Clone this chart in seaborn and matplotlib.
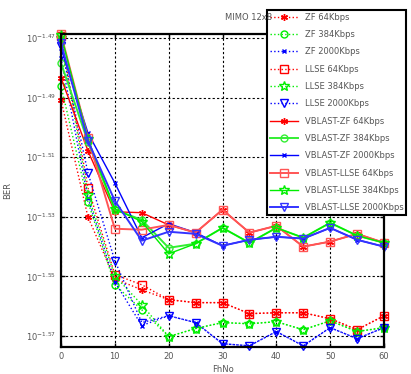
import numpy as np
import pandas as pd
import matplotlib
matplotlib.use("Agg")
import matplotlib.pyplot as plt
import seaborn as sns

# x axis values
fhno = [0, 5, 10, 15, 20, 25, 30, 35, 40, 45, 50, 55, 60]

# BER, stored as log10 exponents (axis labels are 10^x)
zf_64 = [-1.4907, -1.5300, -1.5508, -1.5545, -1.5578, -1.5588, -1.5588, -1.5625, -1.5622, -1.5622, -1.5642, -1.5679, -1.5632]
zf_384 = [-1.4860, -1.5249, -1.5528, -1.5612, -1.5702, -1.5675, -1.5655, -1.5659, -1.5652, -1.5679, -1.5649, -1.5685, -1.5672]
zf_2000 = [-1.4766, -1.5236, -1.5518, -1.5665, -1.5632, -1.5655, -1.5726, -1.5733, -1.5685, -1.5733, -1.5672, -1.5709, -1.5672]
llse_64 = [-1.4692, -1.5202, -1.5494, -1.5528, -1.5578, -1.5588, -1.5588, -1.5625, -1.5622, -1.5622, -1.5642, -1.5679, -1.5632]
llse_384 = [-1.4699, -1.5226, -1.5498, -1.5595, -1.5702, -1.5675, -1.5655, -1.5659, -1.5652, -1.5679, -1.5649, -1.5685, -1.5672]
llse_2000 = [-1.4726, -1.5152, -1.5447, -1.5655, -1.5632, -1.5655, -1.5726, -1.5733, -1.5685, -1.5733, -1.5672, -1.5709, -1.5672]
vb_zf_64 = [-1.4833, -1.5078, -1.5283, -1.5286, -1.5327, -1.5353, -1.5276, -1.5353, -1.5330, -1.5400, -1.5383, -1.5357, -1.5387]
vb_zf_384 = [-1.4783, -1.5048, -1.5276, -1.5310, -1.5404, -1.5390, -1.5337, -1.5387, -1.5337, -1.5370, -1.5320, -1.5363, -1.5387]
vb_zf_2000 = [-1.4733, -1.5018, -1.5186, -1.5370, -1.5323, -1.5353, -1.5397, -1.5377, -1.5367, -1.5373, -1.5337, -1.5377, -1.5400]
vb_llse_64 = [-1.4686, -1.5035, -1.5340, -1.5343, -1.5327, -1.5353, -1.5276, -1.5353, -1.5330, -1.5400, -1.5383, -1.5357, -1.5387]
vb_llse_384 = [-1.4689, -1.5038, -1.5273, -1.5316, -1.5424, -1.5390, -1.5337, -1.5387, -1.5337, -1.5370, -1.5320, -1.5363, -1.5387]
vb_llse_2000 = [-1.4716, -1.5045, -1.5246, -1.5380, -1.5350, -1.5357, -1.5397, -1.5377, -1.5367, -1.5373, -1.5337, -1.5377, -1.5400]

ytick_exp = [-1.47, -1.49, -1.51, -1.53, -1.55, -1.57]

series = [
    ("ZF 64Kbps", zf_64, "red", ":", (6, 2, 0), 5, 1.0),
    ("ZF 384Kbps", zf_384, "#00ee00", ":", "o", 5, 1.0),
    ("ZF 2000Kbps", zf_2000, "blue", ":", "x", 3, 1.0),
    ("LLSE 64Kbps", llse_64, "red", ":", "s", 6, 1.0),
    ("LLSE 384Kbps", llse_384, "#00ee00", ":", "*", 7, 1.0),
    ("LLSE 2000Kbps", llse_2000, "blue", ":", "v", 6, 1.0),
    ("VBLAST-ZF 64Kbps", vb_zf_64, "red", "-", (6, 2, 0), 5, 1.0),
    ("VBLAST-ZF 384Kbps", vb_zf_384, "#33ee33", "-", "o", 5, 1.4),
    ("VBLAST-ZF 2000Kbps", vb_zf_2000, "blue", "-", "x", 3, 1.0),
    ("VBLAST-LLSE 64Kbps", vb_llse_64, "#ff5555", "-", "s", 6, 1.4),
    ("VBLAST-LLSE 384Kbps", vb_llse_384, "#00ee00", "-", "*", 7, 1.0),
    ("VBLAST-LLSE 2000Kbps", vb_llse_2000, "#3333ff", "-", "v", 6, 1.4),
]

fig = plt.figure(figsize=(4.11, 3.74), dpi=100)
ax = fig.add_axes([61 / 411, 1 - 347 / 374, 323 / 411, 313 / 374])

for name, vals, col, ls, mk, ms, lw in series:
    sns.lineplot(x=fhno, y=10 ** np.array(vals), ax=ax, color=col, linestyle=ls,
                 linewidth=lw, marker=mk, markersize=ms, markerfacecolor="none",
                 markeredgecolor=col, markeredgewidth=1.0, label=name,
                 clip_on=False)

ax.set_yscale("log")
ax.set_xlim(0, 60)
ax.set_ylim(10 ** -1.5737, 10 ** -1.4686)
ax.minorticks_off()
ax.set_yticks([10 ** e for e in ytick_exp])
ax.set_yticklabels([r"$10^{%.2f}$" % e for e in ytick_exp])
ax.set_xticks([0, 10, 20, 30, 40, 50, 60])
ax.tick_params(direction="in", top=True, right=True, labelsize=6,
               labelcolor="#555555", length=3, width=1)
ax.grid(True, color="black", linestyle=(0, (2, 2)), linewidth=0.8)
for sp in ax.spines.values():
    sp.set_linewidth(1.6)
    sp.set_color("black")

ax.set_xlabel("FhNo", fontsize=6, color="#555555", labelpad=3)
ax.set_ylabel("BER", fontsize=6, color="#555555", labelpad=10)
fig.text(225 / 411, 1 - 17 / 374, "MIMO 12x8", fontsize=6, color="#555555",
         va="center", ha="left")

leg = ax.legend(loc="upper left", bbox_to_anchor=(267 / 411, 1 - 10 / 374),
                bbox_transform=fig.transFigure, fontsize=6, handlelength=3.4,
                labelspacing=1.0, borderaxespad=0, borderpad=0.3,
                fancybox=False, framealpha=1, edgecolor="black")
leg.get_frame().set_linewidth(1.5)
leg.set_zorder(10)
for t in leg.get_texts():
    t.set_color("#555555")

fig.savefig("out.png", dpi=100)
